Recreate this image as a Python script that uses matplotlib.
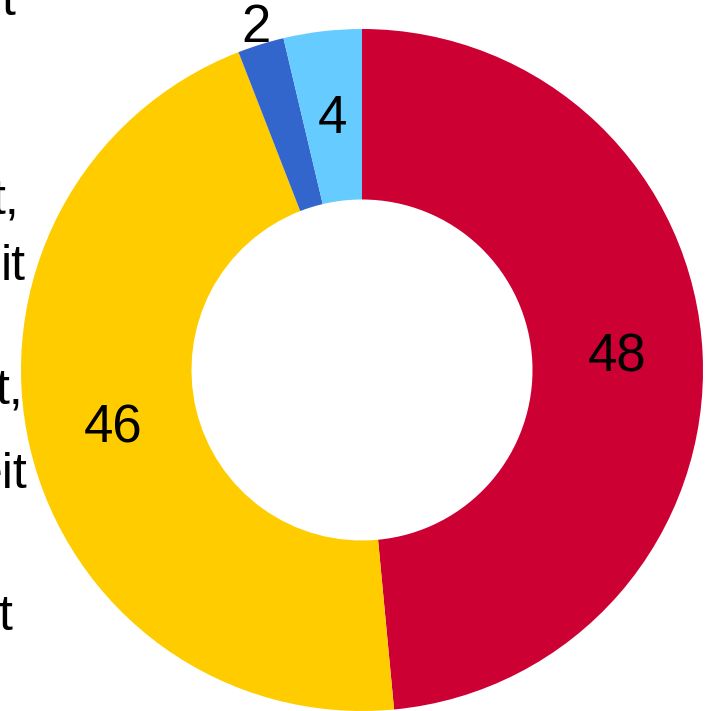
import matplotlib.pyplot as plt
import numpy as np

plt.rcParams['font.family'] = ['Liberation Sans', 'DejaVu Sans']

# slice shares (%), clockwise from 12 o'clock, and the rounded labels shown
values = [48.5, 45.6, 2.2, 3.7]
labels = ['48', '46', '2', '4']
colors = ['#CC0033', '#FFCC00', '#3366CC', '#66CCFF']
label_dist = [0.75, 0.75, 1.05, 0.74]

# clipped legend text visible at the left edge (right end x px, baseline y px)
frag_text = ['t', 't,', 'it', 't,', 'eit', 't']
frag_x = [15, 19, 26, 23, 28, 12]
frag_y = [15, 213, 280, 403, 488, 630]

W, H = 709, 711
cx, cy, R = 362, 370, 341

fig = plt.figure(figsize=(W / 100, H / 100), dpi=100)
ax = fig.add_axes([0, 0, 1, 1])

wedges, _ = ax.pie(values, colors=colors, startangle=90, counterclock=False,
                   radius=1, wedgeprops=dict(width=0.5, linewidth=0))

for w, lab, d in zip(wedges, labels, label_dist):
    ang = np.deg2rad((w.theta1 + w.theta2) / 2)
    ax.text(d * np.cos(ang), d * np.sin(ang), lab, ha='center', va='center',
            fontsize=38, color='black')

ax.set_xlim(-cx / R, (W - cx) / R)
ax.set_ylim(-(H - cy) / R, cy / R)
ax.set_aspect('auto')
ax.axis('off')

for t, x, y in zip(frag_text, frag_x, frag_y):
    ax.text(x / W, 1 - y / H, t, transform=ax.transAxes, ha='right',
            va='baseline', fontsize=36, color='black')

fig.savefig('out.png', dpi=100)
